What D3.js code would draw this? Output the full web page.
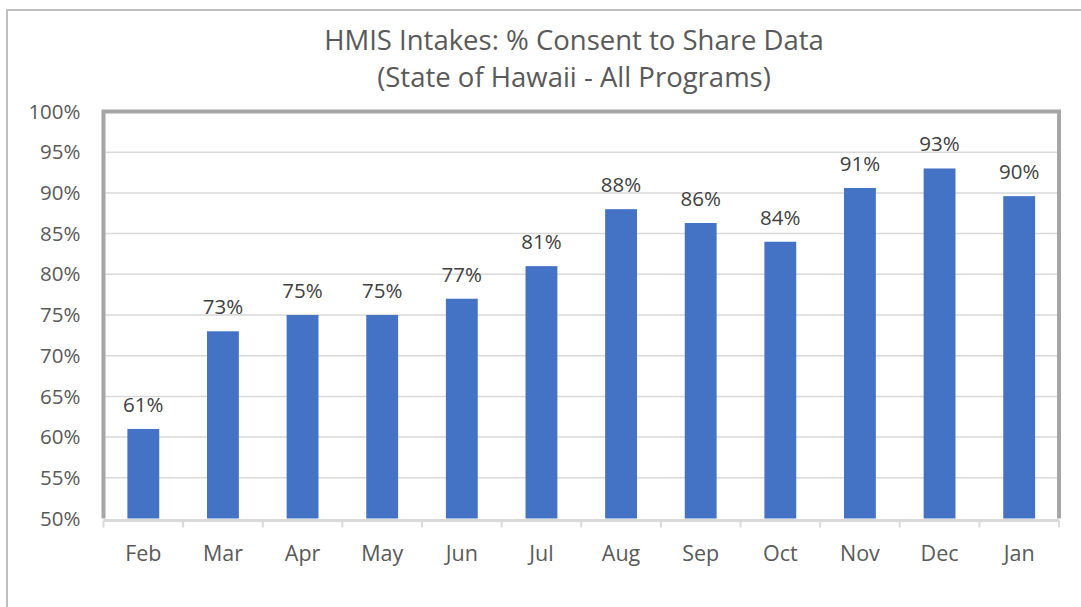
<!DOCTYPE html>
<html>
<head>
<meta charset="utf-8">
<title>HMIS Intakes</title>
<script src="https://cdn.jsdelivr.net/npm/d3@7"></script>
<style>
  body { margin: 0; background: #fff; }
  text { font-family: "Open Sans", "Noto Sans", sans-serif; }
</style>
</head>
<body>
<div id="container"></div>
<script>
  const months = ['Feb', 'Mar', 'Apr', 'May', 'Jun', 'Jul', 'Aug', 'Sep', 'Oct', 'Nov', 'Dec', 'Jan'];
  const consent = [61, 73, 75, 75, 77, 81, 88, 86.3, 84, 90.6, 93, 89.6];
  const yTicks = [50, 55, 60, 65, 70, 75, 80, 85, 90, 95, 100];
  const titleLines = ['HMIS Intakes: % Consent to Share Data', '(State of Hawaii - All Programs)'];

  const w = 1081, h = 607;
  const margin = {top: 111.5, left: 103.5, right: 22, bottom: 88.5};
  const iw = w - margin.left - margin.right;
  const ih = h - margin.top - margin.bottom;

  const svg = d3.select('#container').append('svg')
    .attr('width', w).attr('height', h);

  // outer chart border (left + top only visible)
  svg.append('path')
    .attr('d', `M7,${h + 5}V10H${w + 5}`)
    .attr('fill', 'none')
    .attr('stroke', '#BFBFBF')
    .attr('stroke-width', 2);

  svg.append('g')
    .selectAll('text')
    .data(titleLines)
    .join('text')
    .attr('x', 574)
    .attr('y', (d, i) => 50 + i * 37)
    .attr('text-anchor', 'middle')
    .attr('font-size', 27.5)
    .attr('fill', '#595959')
    .text(d => d);

  const x = d3.scaleBand().domain(months).range([0, iw]).paddingInner(0.6).paddingOuter(0.3);
  const y = d3.scaleLinear().domain([50, 100]).range([ih, 0]);

  const main = svg.append('g')
    .attr('transform', `translate(${margin.left},${margin.top})`);

  // gridlines
  main.append('g')
    .selectAll('line')
    .data(yTicks.slice(1, -1))
    .join('line')
    .attr('x1', 0).attr('x2', iw)
    .attr('y1', d => y(d)).attr('y2', d => y(d))
    .attr('stroke', '#D9D9D9')
    .attr('stroke-width', 1.5);

  // y axis labels
  main.append('g')
    .selectAll('text')
    .data(yTicks)
    .join('text')
    .attr('x', -23)
    .attr('y', d => y(d))
    .attr('dy', '0.35em')
    .attr('text-anchor', 'end')
    .attr('font-size', 20.5)
    .attr('fill', '#595959')
    .text(d => d + '%');

  // bars
  main.append('g')
    .selectAll('rect')
    .data(consent)
    .join('rect')
    .attr('x', (d, i) => x(months[i]))
    .attr('width', x.bandwidth())
    .attr('y', d => y(d))
    .attr('height', d => ih - y(d))
    .attr('fill', '#4472C4');

  // value labels
  main.append('g')
    .selectAll('text')
    .data(consent)
    .join('text')
    .attr('x', (d, i) => x(months[i]) + x.bandwidth() / 2)
    .attr('y', d => y(d) - 17)
    .attr('text-anchor', 'middle')
    .attr('font-size', 20.5)
    .attr('fill', '#404040')
    .text(d => Math.round(d) + '%');

  // x axis
  const xAxis = main.append('g')
    .attr('transform', `translate(0,${ih + 2})`);
  xAxis.append('line')
    .attr('x1', 0).attr('x2', iw)
    .attr('stroke', '#D9D9D9').attr('stroke-width', 3);
  xAxis.selectAll('line.tick')
    .data(d3.range(months.length + 1))
    .join('line')
    .attr('class', 'tick')
    .attr('x1', d => d * x.step()).attr('x2', d => d * x.step())
    .attr('y1', 0).attr('y2', 7)
    .attr('stroke', '#D9D9D9').attr('stroke-width', 2);
  xAxis.selectAll('text')
    .data(months)
    .join('text')
    .attr('x', d => x(d) + x.bandwidth() / 2)
    .attr('y', 40)
    .attr('text-anchor', 'middle')
    .attr('font-size', 21.5)
    .attr('fill', '#595959')
    .text(d => d);

  // plot area frame
  main.append('path')
    .attr('d', `M0,${ih}V0H${iw}V${ih}`)
    .attr('fill', 'none')
    .attr('stroke', '#A6A6A6')
    .attr('stroke-width', 4);
</script>
</body>
</html>
